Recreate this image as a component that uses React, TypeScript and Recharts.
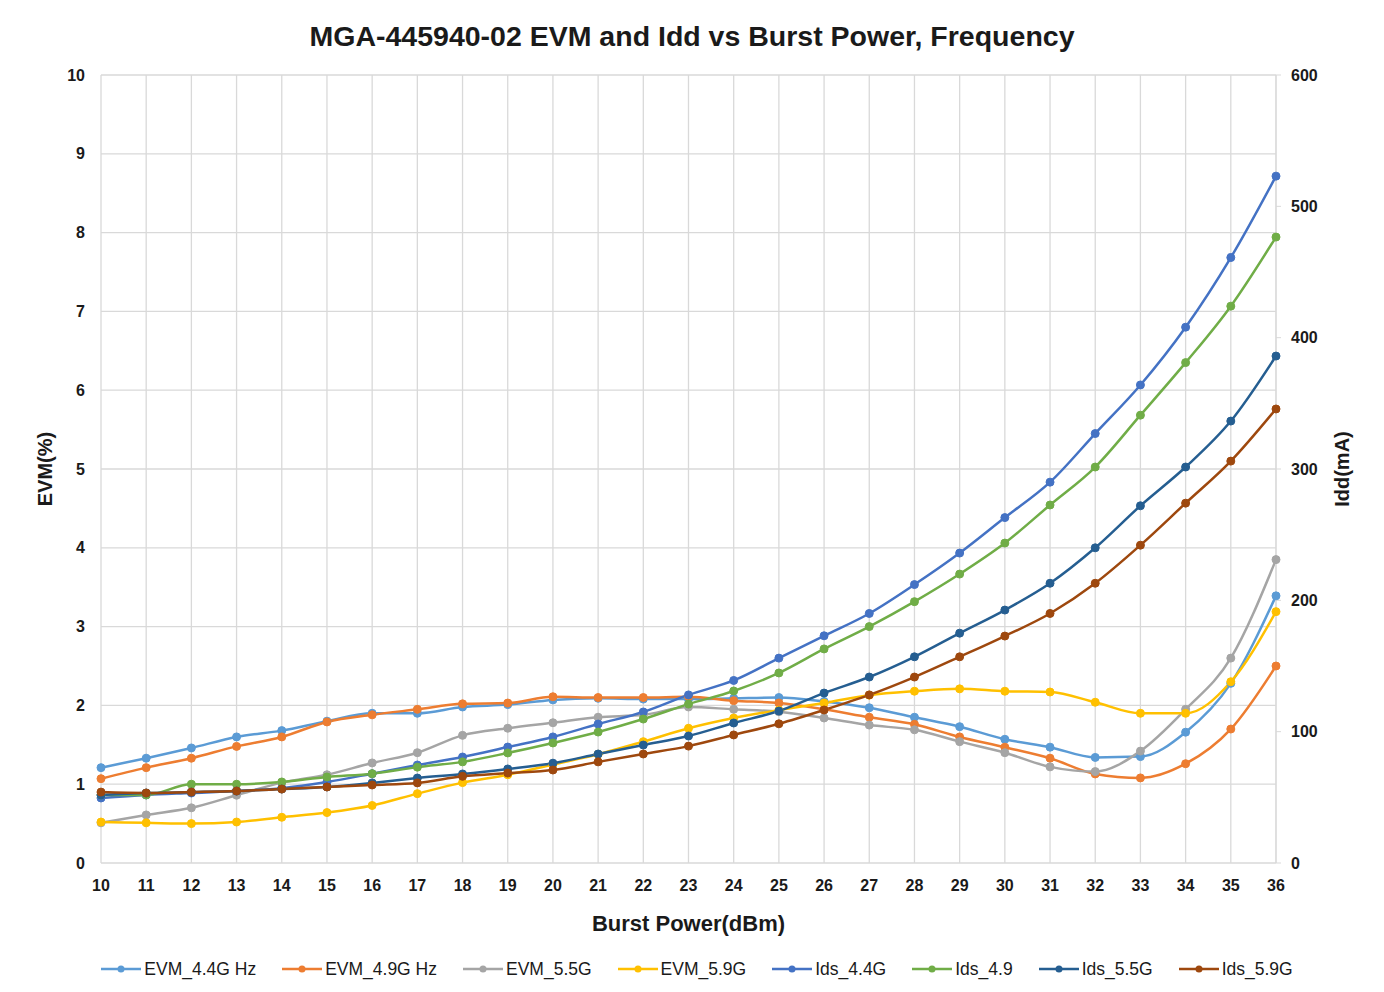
import { LineChart, Line, XAxis, YAxis, CartesianGrid, Legend } from 'recharts';

const power = [10, 11, 12, 13, 14, 15, 16, 17, 18, 19, 20, 21, 22, 23, 24, 25, 26, 27, 28, 29, 30, 31, 32, 33, 34, 35, 36];

const evm44 = [1.21, 1.33, 1.46, 1.6, 1.68, 1.8, 1.9, 1.9, 1.98, 2.01, 2.07, 2.09, 2.08, 2.08, 2.09, 2.1, 2.05, 1.97, 1.85, 1.73, 1.57, 1.47, 1.34, 1.35, 1.66, 2.28, 3.39];
const evm49 = [1.07, 1.21, 1.33, 1.48, 1.6, 1.79, 1.88, 1.95, 2.02, 2.03, 2.11, 2.1, 2.1, 2.11, 2.06, 2.03, 1.95, 1.85, 1.76, 1.6, 1.47, 1.33, 1.13, 1.08, 1.26, 1.7, 2.5];
const evm55 = [0.51, 0.61, 0.7, 0.86, 1.02, 1.12, 1.27, 1.4, 1.62, 1.71, 1.78, 1.85, 1.88, 1.98, 1.95, 1.92, 1.84, 1.75, 1.69, 1.54, 1.4, 1.22, 1.16, 1.42, 1.95, 2.6, 3.85];
const evm59 = [0.52, 0.51, 0.5, 0.52, 0.58, 0.64, 0.73, 0.88, 1.02, 1.12, 1.25, 1.38, 1.54, 1.71, 1.84, 1.94, 2.03, 2.13, 2.18, 2.21, 2.18, 2.17, 2.04, 1.9, 1.9, 2.3, 3.19];

const ids44 = [49.5, 51.8, 53.3, 54.8, 57, 61.7, 68, 74.6, 80.7, 88.3, 96, 105.8, 115, 128, 139, 156, 173, 190, 212, 236, 263, 290, 327, 364, 408, 461, 523];
const ids49 = [51.8, 51.8, 60, 60, 61.7, 65.5, 68, 73, 77, 83.8, 91.4, 99.7, 109.6, 121, 131, 144.7, 163, 180, 199, 220, 243.6, 272.6, 301.5, 341, 381, 424, 476.6];
const ids55 = [51.8, 53.3, 54, 54.8, 56.3, 57.9, 61, 64.7, 67.8, 71.6, 76, 83, 89.8, 96.7, 106.6, 115.7, 129.4, 141.6, 157, 175, 192.6, 213, 240, 272, 301.5, 336.5, 386];
const ids59 = [54, 53.3, 54, 54.8, 56.3, 57.9, 59.4, 61, 66, 68.5, 70.8, 77, 83, 89, 97.5, 106, 116.5, 128, 141.6, 157, 172.8, 190, 213, 242, 274, 306, 345.7];

const evmTicks = [0, 1, 2, 3, 4, 5, 6, 7, 8, 9, 10];
const iddTicks = [0, 100, 200, 300, 400, 500, 600];

const series = [
  { key: 'evm44', name: 'EVM_4.4G Hz', color: '#5B9BD5', axis: 'left', values: evm44 },
  { key: 'evm49', name: 'EVM_4.9G Hz', color: '#ED7D31', axis: 'left', values: evm49 },
  { key: 'evm55', name: 'EVM_5.5G', color: '#A5A5A5', axis: 'left', values: evm55 },
  { key: 'evm59', name: 'EVM_5.9G', color: '#FFC000', axis: 'left', values: evm59 },
  { key: 'ids44', name: 'Ids_4.4G', color: '#4472C4', axis: 'right', values: ids44 },
  { key: 'ids49', name: 'Ids_4.9', color: '#70AD47', axis: 'right', values: ids49 },
  { key: 'ids55', name: 'Ids_5.5G', color: '#255E91', axis: 'right', values: ids55 },
  { key: 'ids59', name: 'Ids_5.9G', color: '#9E480E', axis: 'right', values: ids59 },
];

const data = power.map((p, i) => {
  const row: Record<string, number> = { power: p };
  series.forEach((s) => {
    row[s.key] = s.values[i];
  });
  return row;
});

const font = '"Liberation Sans", Arial, sans-serif';
const tickStyle = { fill: '#1a1a1a', fontSize: 16, fontWeight: 700, fontFamily: font };

function LegendContent() {
  return (
    <div
      style={{
        display: 'flex',
        justifyContent: 'center',
        gap: 26,
        height: 24,
        alignItems: 'center',
        fontFamily: font,
        fontSize: 17.5,
        color: '#1a1a1a',
        paddingLeft: 10,
      }}
    >
      {series.map((s) => (
        <div key={s.key} style={{ display: 'flex', alignItems: 'center' }}>
          <svg width={40} height={12} style={{ marginRight: 3 }}>
            <line x1={0} y1={6} x2={40} y2={6} stroke={s.color} strokeWidth={2.5} />
            <circle cx={20} cy={6} r={3.5} fill={s.color} />
          </svg>
          <span>{s.name}</span>
        </div>
      ))}
    </div>
  );
}

export default function App() {
  return (
    <div style={{ position: 'relative', width: 1368, height: 984, fontFamily: font }}>
      <div
        style={{
          position: 'absolute',
          top: 11,
          left: 0,
          width: 1368,
          textAlign: 'center',
          fontSize: 28.5,
          fontWeight: 700,
          color: '#1a1a1a',
          lineHeight: '34px',
        }}
      >
        MGA-445940-02 EVM and Idd vs Burst Power, Frequency
      </div>
      <LineChart width={1368} height={984} data={data} margin={{ top: 67, right: 20, left: 20, bottom: 11 }}>
        <CartesianGrid yAxisId="left" stroke="#d9d9d9" strokeWidth={1.3} />
        <XAxis
          dataKey="power"
          type="number"
          domain={[10, 36]}
          ticks={power}
          interval={0}
          axisLine={false}
          tickLine={false}
          tickMargin={11}
          tick={tickStyle}
          height={94}
          label={{
            value: 'Burst Power(dBm)',
            position: 'insideBottom',
            offset: 26,
            style: { fill: '#1a1a1a', fontSize: 22, fontWeight: 700, fontFamily: font },
          }}
        />
        <YAxis
          yAxisId="left"
          domain={[0, 10]}
          ticks={evmTicks}
          interval={0}
          width={73}
          axisLine={false}
          tickLine={false}
          tickMargin={10}
          tick={tickStyle}
          label={{
            value: 'EVM(%)',
            angle: -90,
            position: 'insideLeft',
            offset: 17,
            style: { textAnchor: 'middle', fill: '#1a1a1a', fontSize: 20, fontWeight: 700, fontFamily: font },
          }}
        />
        <YAxis
          yAxisId="right"
          orientation="right"
          domain={[0, 600]}
          ticks={iddTicks}
          interval={0}
          width={80}
          axisLine={{ stroke: '#d9d9d9' }}
          tickLine={{ stroke: '#d9d9d9' }}
          tickSize={5}
          tickMargin={10}
          tick={tickStyle}
          label={{
            value: 'Idd(mA)',
            angle: -90,
            position: 'insideRight',
            offset: 14,
            style: { textAnchor: 'middle', fill: '#1a1a1a', fontSize: 20, fontWeight: 700, fontFamily: font },
          }}
        />
        <Legend verticalAlign="bottom" content={<LegendContent />} />
        {series.map((s) => (
          <Line
            key={s.key}
            yAxisId={s.axis}
            type="monotone"
            dataKey={s.key}
            name={s.name}
            stroke={s.color}
            strokeWidth={2.5}
            dot={{ r: 4, fill: s.color, stroke: s.color, strokeWidth: 1 }}
            isAnimationActive={false}
          />
        ))}
      </LineChart>
    </div>
  );
}
